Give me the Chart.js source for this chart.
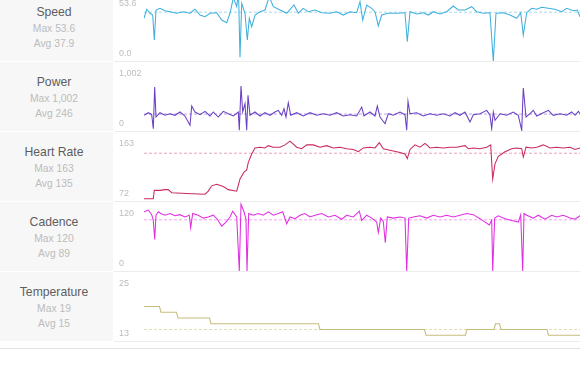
<!DOCTYPE html>
<html>
<head>
<meta charset="utf-8">
<script src="https://cdn.jsdelivr.net/npm/chart.js@4.4.1/dist/chart.umd.min.js"></script>
<style>
  body { margin: 0; width: 580px; height: 382px; overflow: hidden; background: #fff;
         font-family: 'Liberation Sans', Arial, sans-serif; }
  #stack { position: absolute; left: 0; top: -8px; width: 580px; }
  .row { position: relative; height: 70px; }
  .side { position: absolute; left: 0; top: 0; width: 113px; height: 69px; background: #f7f7f7; }
  .side div { position: absolute; left: 0; width: 108px; text-align: center; white-space: nowrap; }
  .name { top: 12px; line-height: 16px; font-size: 12.2px; color: #5e5e5e; }
  .max  { top: 30px; line-height: 14px; font-size: 10.3px; color: #bcbcbc; }
  .avg  { top: 45px; line-height: 14px; font-size: 10.3px; color: #bcbcbc; }
  .row canvas { position: absolute; left: 114px; top: 0; }
  .rule { position: absolute; left: 114px; top: 69px; width: 466px; height: 1px; background: #ececec; }
  #foot { position: absolute; left: 0; top: 348px; width: 580px; height: 1px; background: #e2e2e2; }
</style>
</head>
<body>
<div id="stack"></div>
<div id="foot"></div>
<script>
// panel names and summary figures
const metrics = ['Speed', 'Power', 'Heart Rate', 'Cadence', 'Temperature'];
const maxLabels = ['53.6', '1,002', '163', '120', '19'];
const avgLabels = ['37.9', '246', '135', '89', '15'];
const avgValues = [37.9, 246, 135, 89, 15];
const axisMin = [0, 0, 72, 0, 13];
const axisMax = [53.6, 1002, 163, 120, 25];
const lineColors = ['#3fb0de', '#6a40c4', '#c92a5c', '#e02ee2', '#c6bc7c'];
const avgColors = ['#a9d9ef', '#b9a6e6', '#efa3bc', '#f2a2f0', '#e3ddb6'];
const courseEnd = 43.6; // km shown in the window

// speed, km/h
const speedKm = [0,0.27,0.6,0.87,1.03,1.2,1.6,2.1,2.6,3.27,3.93,4.6,5.1,5.6,6.1,6.6,7.27,7.77,8.27,8.6,
  8.93,9.27,9.45,9.6,9.77,10.1,10.33,10.53,10.77,11.1,11.6,12.1,12.53,12.93,13.6,14.27,15.0,15.43,15.93,16.43,
  17.1,17.77,18.6,19.27,19.93,20.6,21.27,21.6,21.87,22.27,22.77,23.1,23.43,23.77,24.43,25.27,26.1,26.33,26.6,27.27,
  27.93,28.43,28.93,29.6,30.27,30.93,31.43,32.1,32.77,33.27,33.93,34.6,34.93,35.2,35.93,36.6,37.27,37.67,37.93,38.27,
  38.77,39.27,39.77,40.43,41.1,41.77,42.27,42.93,43.33,43.6];
const speedKph = [33.2,40.2,37.1,35.7,16.3,39.6,40.9,39.1,38.3,37.1,38.3,37.1,40.2,35.7,34.4,37.1,37.5,31.8,29.8,37.1,
  49,42.2,53.6,2.9,44.8,37.1,16.3,33.2,26.6,35.7,38.3,39.6,50,42.2,39.6,37.1,43.5,37.1,40.9,38.3,
  39.6,37.5,37.1,38.3,35.7,38.3,37.5,46.1,31.8,43.5,40.9,38.3,27.2,35.7,37.1,37.1,37.5,15,38.3,36.5,
  37.5,35.7,38.3,36.5,38.3,42.7,39.6,39.6,42.2,38.3,37.1,37.5,0,37.1,37.5,35.7,33.2,37.5,20.2,37.5,
  40.9,40.2,41.7,40.9,40.2,38.3,40.9,39.1,39.6,34.4];

// power, W
const powerKm = [0,0.43,0.77,0.93,1.07,1.2,1.6,2.1,2.6,3.1,3.6,4.1,4.6,4.77,5.1,5.6,6.1,6.6,6.93,7.43,
  7.93,8.43,8.93,9.43,9.53,9.7,9.87,10.1,10.27,10.4,10.6,11.1,11.6,12.1,12.6,13.1,13.43,13.77,14,14.2,
  14.43,14.67,15.27,15.93,16.6,17.27,17.93,18.6,19.27,19.93,20.6,21.27,21.77,22,22.6,23.1,23.33,23.6,24.1,24.43,
  24.93,25.6,26.1,26.27,26.4,26.6,27.27,27.93,28.6,29.27,29.93,30.6,31.1,31.6,32.1,32.6,32.93,33.6,34.27,34.6,
  34.77,34.93,35.1,35.6,36.27,36.93,37.43,37.77,37.93,38.2,38.6,38.93,39.27,39.93,40.43,40.93,41.6,42.27,42.77,43.1,
  43.43,43.6];
const powerW = [228,266,237,33,639,203,266,228,251,228,276,218,83,363,276,237,286,218,276,203,
  286,251,218,276,10,653,276,396,10,518,228,276,218,266,228,276,300,228,324,203,
  411,228,266,218,266,228,251,228,266,218,237,218,348,218,276,218,363,203,106,251,
  228,276,237,10,431,251,266,218,251,228,251,218,266,228,276,131,237,251,300,228,
  33,276,155,251,228,276,228,10,624,203,251,300,218,266,300,228,251,228,276,228,
  286,251];

// heart rate, bpm
const heartKm = [0,0.93,1.03,1.6,2.1,2.43,2.77,4.27,6.1,6.43,6.77,7.27,7.93,8.43,9.27,9.6,10,10.27,10.43,10.77,
  11.1,11.6,12.1,12.43,12.93,13.6,14.1,14.6,15.27,15.77,16.27,16.93,17.6,18.27,18.93,19.6,20.27,20.93,21.43,21.93,
  22.6,23.1,23.53,23.93,24.6,25.6,26.1,26.33,26.6,27.1,27.6,28.1,28.6,29.27,29.93,30.6,31.27,32.1,32.43,32.93,
  33.6,34.27,34.67,34.87,35.1,35.43,36.1,36.77,37.27,37.77,37.93,38.2,38.77,39.27,39.93,40.6,41.27,41.93,42.6,43.1,
  43.6];
const heartBpm = [75,75,86,86,87,87,83,82,81,85,92,94,91,87,85,101,110,113,123,134,
  142,143,142,145,143,143,146,151,143,141,146,146,143,145,142,143,141,140,137,142,
  143,142,149,141,139,136,134,128,140,146,143,148,142,143,142,143,143,145,141,142,
  141,143,146,101,121,131,137,141,142,141,130,143,142,143,146,142,143,142,143,140,
  142];

// cadence, rpm
const cadenceKm = [0,0.43,0.77,0.93,1.07,1.2,1.43,1.67,2.1,2.6,3.1,3.6,4.1,4.53,4.67,4.87,5.43,5.93,6.43,6.93,
  7.33,7.77,8.2,8.6,8.87,9.27,9.53,9.7,10,10.2,10.3,10.47,10.93,11.43,11.93,12.43,12.93,13.43,13.87,14.27,
  14.6,15.1,15.6,16.1,16.6,17.1,17.77,18.43,19.1,19.77,20.27,20.93,21.53,21.77,22.27,22.77,23.27,23.43,23.67,23.93,
  24.13,24.33,24.93,25.6,26.1,26.27,26.47,26.93,27.6,28.27,28.93,29.6,30.27,30.93,31.6,32.27,32.93,33.6,34.1,34.53,
  34.77,34.87,35.07,35.43,36.1,36.77,37.43,37.67,37.87,38,38.27,38.93,39.43,40.1,40.77,41.27,41.93,42.6,43.1,43.6];
const cadenceRpm = [103,106,98,88,55,97,103,100,97,100,96,98,94,97,75,100,97,92,94,97,
  90,78,85,94,104,94,0,116,103,90,0,100,97,100,97,103,97,100,103,82,
  94,91,97,100,94,97,100,94,97,90,97,94,104,88,97,92,85,67,92,86,
  49,94,92,94,92,0,92,94,96,92,97,94,97,94,97,100,98,91,85,80,
  88,0,92,96,91,88,85,98,0,100,97,92,97,90,97,94,97,92,90,96];

// temperature, deg C
const tempKm = [0,1.55,1.7,3.25,3.4,6.55,6.7,17.45,17.6,28.05,28.2,32.15,32.3,35.0,35.15,35.55,35.7,40.3,40.45,43.6];
const tempC = [19,19,18,18,17,17,16,16,15,15,14,14,15,15,16,16,15,15,14,14];

const seriesKm = [speedKm, powerKm, heartKm, cadenceKm, tempKm];
const seriesVal = [speedKph, powerW, heartBpm, cadenceRpm, tempC];
const tickFormat = [
  v => v.toFixed(1),
  v => v.toLocaleString('en-US'),
  v => String(v),
  v => String(v),
  v => String(v)
];

const stack = document.getElementById('stack');

metrics.forEach((name, i) => {
  const row = document.createElement('div');
  row.className = 'row';
  row.innerHTML =
    '<div class="side"><div class="name">' + name + '</div>' +
    '<div class="max">Max ' + maxLabels[i] + '</div>' +
    '<div class="avg">Avg ' + avgLabels[i] + '</div></div>' +
    '<canvas width="466" height="69"></canvas><div class="rule"></div>';
  stack.appendChild(row);

  const lo = axisMin[i], hi = axisMax[i], span = hi - lo;
  const xs = seriesKm[i], ys = seriesVal[i];

  new Chart(row.querySelector('canvas'), {
    type: 'line',
    data: {
      datasets: [
        {
          data: xs.map((x, k) => ({ x: x, y: ys[k] })),
          borderColor: lineColors[i],
          borderWidth: 1.05,
          pointRadius: 0,
          tension: 0,
          order: 0
        },
        {
          data: [{ x: 0, y: avgValues[i] }, { x: courseEnd, y: avgValues[i] }],
          borderColor: avgColors[i],
          borderWidth: 1,
          borderDash: [3, 2],
          pointRadius: 0,
          order: 1
        }
      ]
    },
    options: {
      responsive: false,
      animation: false,
      devicePixelRatio: 1,
      layout: { padding: { left: 5, right: 0, top: 0, bottom: 0 } },
      plugins: { legend: { display: false }, tooltip: { enabled: false } },
      scales: {
        x: { type: 'linear', min: 0, max: courseEnd, display: false },
        y: { min: lo, max: hi, display: false },
        // label axis: only the min and max, set a little inside the panel
        yt: {
          position: 'left',
          min: lo - 0.14 * span,
          max: hi + 0.24 * span,
          grid: { display: false },
          border: { display: false },
          afterBuildTicks: s => { s.ticks = [{ value: lo }, { value: hi }]; },
          afterFit: s => {
            s.width = 25;
            s.paddingTop = 0; s.paddingBottom = 0;
            s.paddingLeft = 0; s.paddingRight = 0;
          },
          ticks: {
            crossAlign: 'far',
            padding: 0,
            color: '#bdbdbd',
            font: { family: "'Liberation Sans', Arial, sans-serif", size: 9 },
            callback: v => tickFormat[i](v)
          }
        }
      }
    }
  });
});
</script>
</body>
</html>
